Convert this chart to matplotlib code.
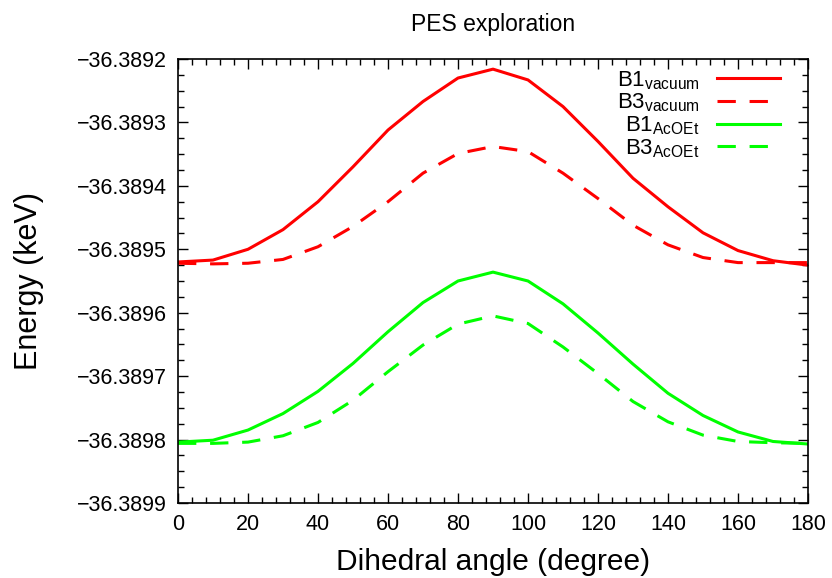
import matplotlib

matplotlib.use("Agg")
import matplotlib.pyplot as plt
import matplotlib.ticker as mticker

plt.rcParams["font.family"] = ["Liberation Sans", "DejaVu Sans"]
plt.rcParams["mathtext.fontset"] = "custom"
plt.rcParams["mathtext.rm"] = "Liberation Sans"

angle = [0, 10, 20, 30, 40, 50, 60, 70, 80, 90, 100, 110, 120, 130, 140, 150, 160, 170, 180]

b1_vacuum = [-36.389520, -36.389517, -36.389500, -36.389469, -36.389425, -36.389370, -36.389312,
             -36.389267, -36.389230, -36.389216, -36.389233, -36.389275, -36.389330, -36.389388,
             -36.389433, -36.389474, -36.389502, -36.389518, -36.389525]
b3_vacuum = [-36.389522, -36.389523, -36.389522, -36.389516, -36.389496, -36.389464, -36.389425,
             -36.389380, -36.389349, -36.389338, -36.389346, -36.389380, -36.389420, -36.389462,
             -36.389493, -36.389513, -36.389521, -36.389521, -36.389521]
b1_acoet = [-36.389804, -36.389801, -36.389785, -36.389759, -36.389724, -36.389680, -36.389630,
            -36.389584, -36.389550, -36.389536, -36.389550, -36.389586, -36.389632, -36.389681,
            -36.389727, -36.389762, -36.389788, -36.389803, -36.389807]
b3_acoet = [-36.389806, -36.389806, -36.389804, -36.389794, -36.389773, -36.389738, -36.389693,
            -36.389651, -36.389618, -36.389605, -36.389617, -36.389654, -36.389696, -36.389740,
            -36.389772, -36.389793, -36.389803, -36.389805, -36.389806]

RED = "#ff0000"
GREEN = "#00ff00"
DASH = (6, 4.5)
LW = 2.2

fig = plt.figure(figsize=(8.32, 5.78), dpi=100)
ax = fig.add_axes([178 / 832, 75 / 578, 630 / 832, 444 / 578])

ax.plot(angle, b1_vacuum, color=RED, lw=LW, label=r"B1$_{\mathrm{vacuum}}$")
ax.plot(angle, b3_vacuum, color=RED, lw=LW, dashes=DASH, label=r"B3$_{\mathrm{vacuum}}$")
ax.plot(angle, b1_acoet, color=GREEN, lw=LW, label=r"B1$_{\mathrm{AcOEt}}$")
ax.plot(angle, b3_acoet, color=GREEN, lw=LW, dashes=DASH, label=r"B3$_{\mathrm{AcOEt}}$")

ax.set_xlim(0, 180)
ax.set_ylim(-36.3899, -36.3892)
ax.xaxis.set_major_locator(mticker.MultipleLocator(20))
ax.xaxis.set_minor_locator(mticker.MultipleLocator(4))
ax.yaxis.set_major_locator(mticker.MultipleLocator(0.0001))
ax.yaxis.set_minor_locator(mticker.MultipleLocator(0.000025))
ax.yaxis.set_major_formatter(mticker.FuncFormatter(lambda v, _p: f"{v:.4f}".replace("-", "\u2212")))
ax.tick_params(which="both", direction="in", top=True, right=True, labelsize=15.5, width=1)
ax.tick_params(which="major", length=7, pad=8)
ax.tick_params(which="minor", length=4)
for s in ax.spines.values():
    s.set_linewidth(1.2)

ax.set_xlabel("Dihedral angle (degree)", fontsize=21.5, labelpad=9)
ax.set_ylabel("Energy (keV)", fontsize=22)
ax.yaxis.set_label_coords(-0.212, 0.5)
ax.set_title("PES exploration", fontsize=16.5, pad=20)

ax.legend(loc="upper right", bbox_to_anchor=(0.9556, 0.977), frameon=False, markerfirst=False,
          fontsize=16, handlelength=2.85, labelspacing=0.0, borderpad=0, borderaxespad=0,
          handletextpad=0.77)

fig.savefig("out.png", dpi=100)
